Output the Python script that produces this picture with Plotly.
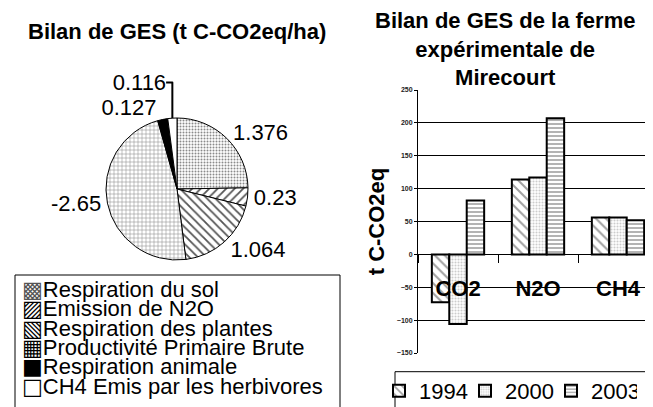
import plotly.graph_objects as go

# The page body adds an 8px margin; the figure is sized so it fits the window.
OFF = 8
W, H = 653 - OFF, 407 - OFF

# ---------------- data ----------------
pie_labels = ["Respiration du sol", "Emission de N2O", "Respiration des plantes",
              "Productivité Primaire Brute", "Respiration animale",
              "CH4 Emis par les herbivores"]
pie_values = [1.376, 0.23, 1.064, -2.65, 0.127, 0.116]
pie_symbols = ["▩", "▨", "▧", "▦", "■", "□"]
pie_symbol_colors = ["#555555", "black", "black", "black", "black", "black"]

gases = ["CO2", "N2O", "CH4"]
years = ["1994", "2000", "2003"]
v1994 = [-73, 114, 56]
v2000 = [-106, 117, 56]
v2003 = [82, 207, 52]
bar_values = [v1994, v2000, v2003]

ytick_vals = [-150, -100, -50, 0, 50, 100, 150, 200, 250]

FONT = "Liberation Sans, Arial, DejaVu Sans, sans-serif"


def px(x):
    """screen x pixel -> paper fraction"""
    return (x - OFF) / W


def py(y):
    """screen y pixel -> paper fraction"""
    return 1 - (y - OFF) / H


fig = go.Figure()

# ---------------- pie ----------------
fig.add_trace(go.Pie(
    labels=pie_labels,
    values=[abs(v) for v in pie_values],
    text=[str(v) for v in pie_values],
    textinfo="text",
    textposition="outside",
    textfont=dict(size=22, color="black", family=FONT),
    sort=False,
    direction="clockwise",
    rotation=0,
    showlegend=False,
    marker=dict(
        colors=["white", "white", "white", "white", "black", "white"],
        line=dict(color="black", width=1),
        pattern=dict(
            shape=[".", "/", "\\", "+", "", ""],
            fgcolor=["#8a8a8a", "#555555", "#555555", "#8a8a8a", "black", "black"],
            bgcolor=["white", "white", "white", "white", "black", "white"],
            size=[3, 6, 6, 4, 6, 6],
            solidity=[0.35, 0.3, 0.3, 0.25, 0.3, 0.3],
        ),
    ),
    domain=dict(x=[px(106), px(248)], y=[py(260), py(118)]),
))

# ---------------- bars ----------------
patterns = [
    dict(shape="\\", fgcolor="#444444", bgcolor="white", size=7, solidity=0.3),
    dict(shape=".", fgcolor="#9a9a9a", bgcolor="white", size=3, solidity=0.4),
    dict(shape="-", fgcolor="#444444", bgcolor="white", size=4, solidity=0.4),
]
for yr, vals, pat in zip(years, bar_values, patterns):
    fig.add_trace(go.Bar(
        name=yr, x=gases, y=vals,
        marker=dict(color="white", line=dict(color="black", width=2), pattern=pat),
        xaxis="x", yaxis="y", legend="legend",
    ))

fig.update_layout(
    width=W, height=H,
    margin=dict(l=0, r=0, t=0, b=0, autoexpand=False),
    paper_bgcolor="white", plot_bgcolor="white",
    font=dict(family=FONT, color="black"),
    barmode="group", bargap=0.346, bargroupgap=0,
    xaxis=dict(
        domain=[px(418), 1],
        range=[-0.5, 2.4375],
        anchor="free", position=py(254.2),
        showgrid=False, showline=False, zeroline=False, automargin=False,
        ticks="outside", tickson="boundaries", ticklen=8, tickcolor="black", tickwidth=1,
        tickfont=dict(size=22, family=FONT, color="black", weight="bold"),
        ticklabelstandoff=19,
    ),
    yaxis=dict(
        domain=[py(353), py(90)],
        range=[-150, 250],
        tickvals=ytick_vals,
        showgrid=True, gridcolor="black", gridwidth=1,
        zeroline=True, zerolinecolor="black", zerolinewidth=1,
        showline=True, linecolor="black", linewidth=1, automargin=False,
        ticks="outside", ticklen=3, tickcolor="black",
        tickfont=dict(size=7, family=FONT, color="#222222", weight="bold"),
        title=dict(text="t C-CO2eq", font=dict(size=22, family=FONT, weight="bold"),
                   standoff=6),
    ),
    legend=dict(
        orientation="h", x=px(379), y=py(370), xanchor="left", yanchor="top",
        font=dict(size=22, family=FONT, color="black"),
        bgcolor="rgba(0,0,0,0)", borderwidth=0,
        entrywidth=41, itemwidth=30,
    ),
)

# titles
fig.add_annotation(text="<b>Bilan de GES (t C-CO2eq/ha)</b>", x=px(177), y=py(31),
                   xref="paper", yref="paper", xanchor="center", yanchor="middle",
                   showarrow=False, font=dict(size=22, family=FONT, color="black"))
fig.add_annotation(text="<b>Bilan de GES de la ferme<br>expérimentale de<br>Mirecourt</b>",
                   x=px(505), y=py(49), xref="paper", yref="paper",
                   xanchor="center", yanchor="middle", showarrow=False,
                   font=dict(size=22, family=FONT, color="black"))

# pie legend (text entries with glyph swatches)
for i, (sym, col, lab) in enumerate(zip(pie_symbols, pie_symbol_colors, pie_labels)):
    txt = (f'<span style="font-family:DejaVu Sans;color:{col}">{sym}</span>'
           f'{lab}')
    fig.add_annotation(text=txt, x=px(20), y=py(289.3 + i * 19.4),
                       xref="paper", yref="paper", xanchor="left", yanchor="middle",
                       showarrow=False, font=dict(size=22, family=FONT, color="black"))

# legend boxes
fig.add_shape(type="rect", xref="paper", yref="paper",
              x0=px(15), x1=px(340), y0=-0.1, y1=py(275),
              line=dict(color="black", width=1), fillcolor="rgba(0,0,0,0)", layer="below")
fig.add_shape(type="rect", xref="paper", yref="paper",
              x0=px(395), x1=1.1, y0=-0.1, y1=py(371.7),
              line=dict(color="black", width=1), fillcolor="rgba(0,0,0,0)", layer="below")

fig.write_html("out.html")
